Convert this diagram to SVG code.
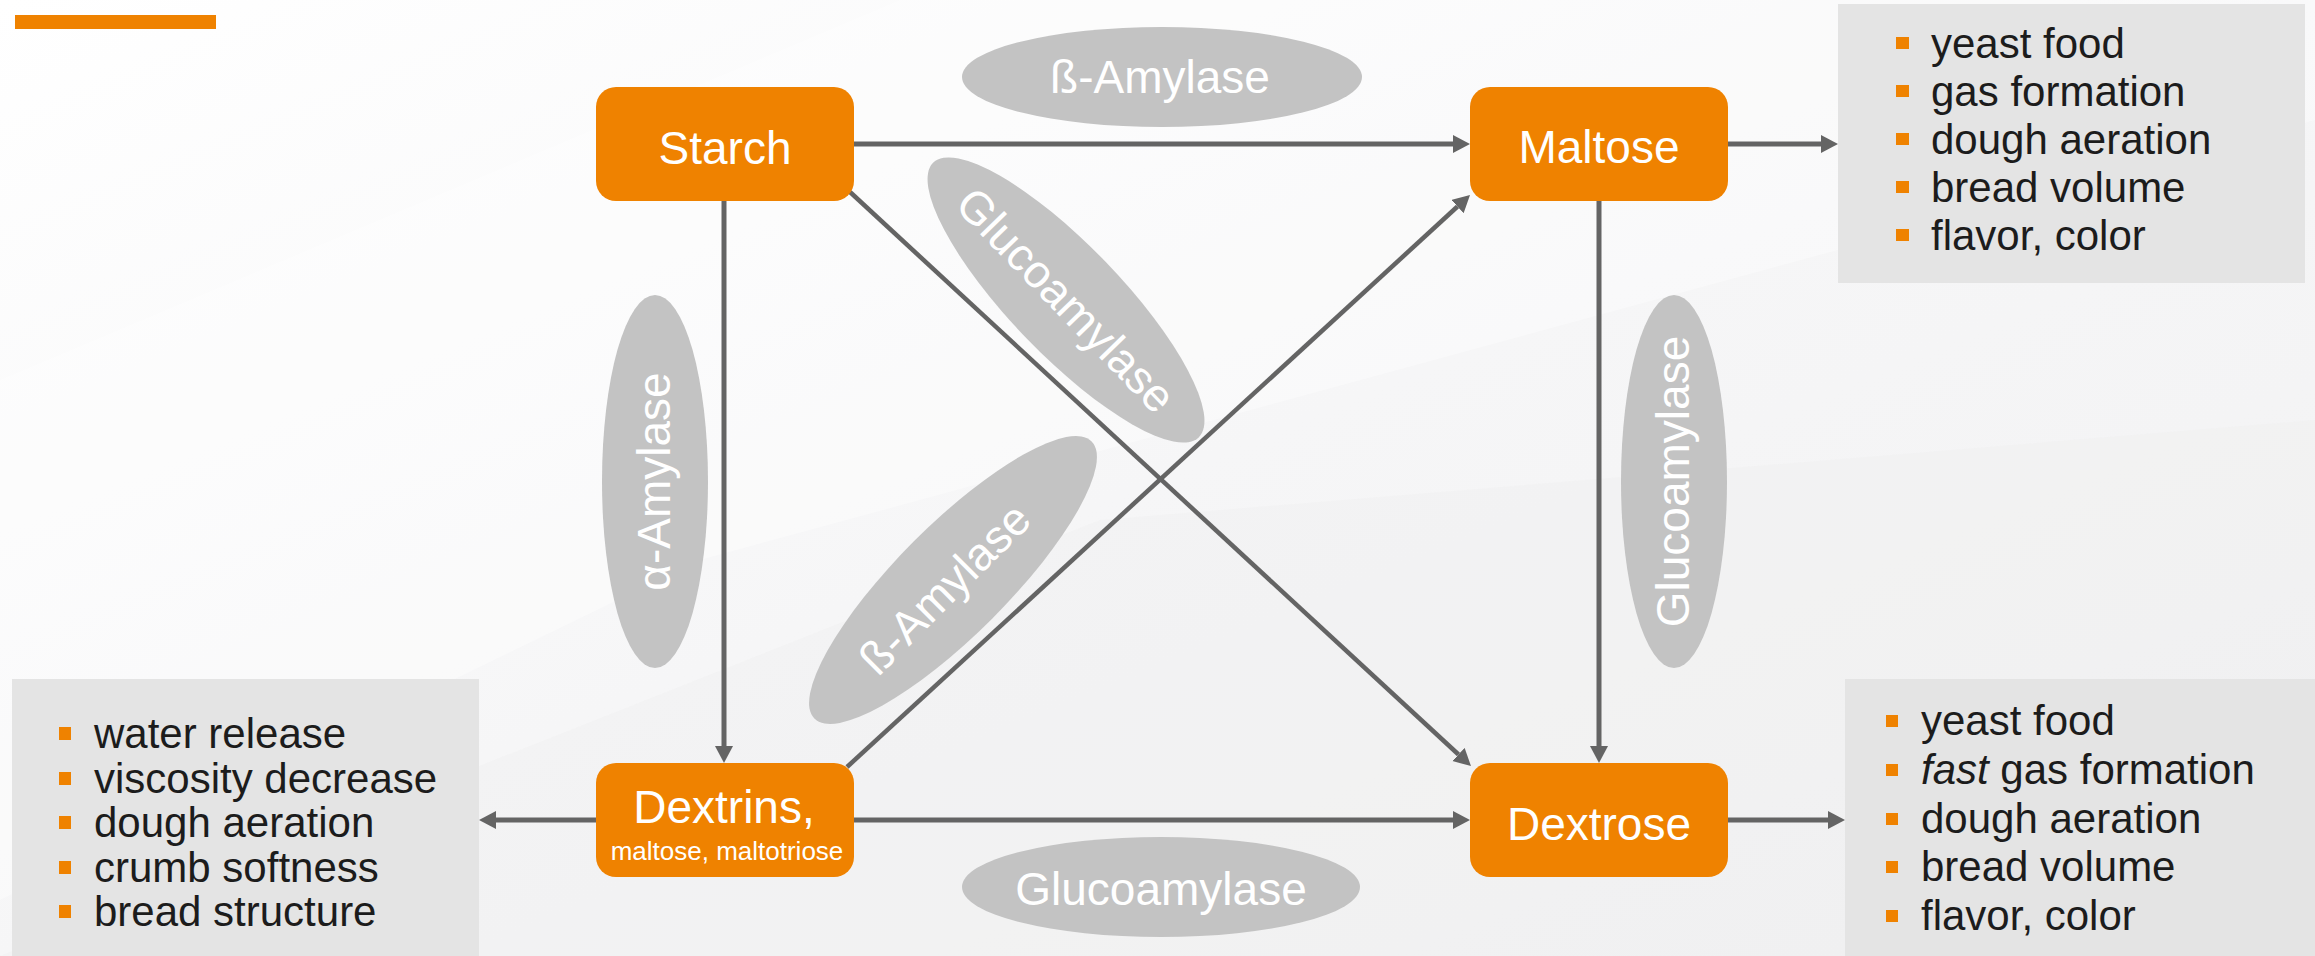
<svg xmlns="http://www.w3.org/2000/svg" width="2315" height="956" viewBox="0 0 2315 956">
<defs>
<linearGradient id="bg" x1="0" y1="0" x2="1" y2="1">
<stop offset="0" stop-color="#ffffff"/>
<stop offset="0.5" stop-color="#f6f6f7"/>
<stop offset="1" stop-color="#f1f1f2"/>
</linearGradient>
<marker id="ah" markerUnits="userSpaceOnUse" markerWidth="18" markerHeight="20" refX="0" refY="9" orient="auto">
<path d="M0,0 L17,9 L0,18 z" fill="#646464"/>
</marker>
<style>
.node{fill:#ef8200}
.nt{font-family:"Liberation Sans",Arial,sans-serif;font-size:46px;fill:#ffffff;text-anchor:middle}
.small{font-size:26px}
.ell{fill:#c3c3c3}
.et{font-family:"Liberation Sans",Arial,sans-serif;font-size:46px;fill:#ffffff;text-anchor:middle}
.box{fill:#e4e4e4}
.lt{font-family:"Liberation Sans",Arial,sans-serif;font-size:42px;fill:#1c1c1c}
.bul{fill:#ef8200}
.con{stroke:#646464;fill:none}
.hv{stroke-width:5}
.dg{stroke-width:4.5}
</style>
</defs>
<rect x="0" y="0" width="2315" height="956" fill="url(#bg)"/>
<polygon points="0,380 900,0 2315,0 2315,120 700,560 0,900" fill="#ffffff" opacity="0.35"/>
<polygon points="0,956 1100,520 2315,420 2315,956" fill="#eeeeef" opacity="0.35"/>
<rect x="15" y="15" width="201" height="14" fill="#ef8200"/>

<g id="connectors">
<line class="con hv" x1="854" y1="144" x2="1453" y2="144" marker-end="url(#ah)"/>
<line class="con hv" x1="724" y1="201" x2="724" y2="746" marker-end="url(#ah)"/>
<line class="con hv" x1="1599" y1="201" x2="1599" y2="746" marker-end="url(#ah)"/>
<line class="con hv" x1="854" y1="820" x2="1453" y2="820" marker-end="url(#ah)"/>
<line class="con hv" x1="1728" y1="144" x2="1821" y2="144" marker-end="url(#ah)"/>
<line class="con hv" x1="1728" y1="820" x2="1828" y2="820" marker-end="url(#ah)"/>
<line class="con hv" x1="596" y1="820" x2="496" y2="820" marker-end="url(#ah)"/>
<line class="con dg" x1="850" y1="192" x2="1458.5" y2="754.5" marker-end="url(#ah)"/>
<line class="con dg" x1="847" y1="767" x2="1457.5" y2="206.5" marker-end="url(#ah)"/>
</g>

<g id="enzyme-beta-top">
<ellipse class="ell" cx="1162" cy="77" rx="200" ry="50"/>
<text class="et" x="1160" y="93">ß-Amylase</text>
</g>
<g id="enzyme-gluco-diag" transform="translate(1066,300) rotate(46)">
<ellipse class="ell" cx="0" cy="0" rx="191" ry="55"/>
<text class="et" x="0" y="16">Glucoamylase</text>
</g>
<g id="enzyme-alpha" transform="translate(655,481.5) rotate(-90)">
<ellipse class="ell" cx="0" cy="0" rx="186.5" ry="53"/>
<text class="et" x="0" y="15">α-Amylase</text>
</g>
<g id="enzyme-beta-diag" transform="translate(953,580) rotate(-45)">
<ellipse class="ell" cx="0" cy="0" rx="196" ry="55"/>
<text class="et" x="-12" y="16">ß-Amylase</text>
</g>
<g id="enzyme-gluco-right" transform="translate(1674,481.5) rotate(-90)">
<ellipse class="ell" cx="0" cy="0" rx="186.5" ry="53"/>
<text class="et" x="0" y="15">Glucoamylase</text>
</g>
<g id="enzyme-gluco-bottom">
<ellipse class="ell" cx="1161" cy="887" rx="199" ry="50"/>
<text class="et" x="1161" y="905">Glucoamylase</text>
</g>

<g id="node-starch">
<rect class="node" x="596" y="87" width="258" height="114" rx="20"/>
<text class="nt" x="725" y="164">Starch</text>
</g>
<g id="node-maltose">
<rect class="node" x="1470" y="87" width="258" height="114" rx="20"/>
<text class="nt" x="1599" y="163">Maltose</text>
</g>
<g id="node-dextrins">
<rect class="node" x="596" y="763" width="258" height="114" rx="20"/>
<text class="nt" x="724" y="823">Dextrins,</text>
<text class="nt small" x="727" y="860">maltose, maltotriose</text>
</g>
<g id="node-dextrose">
<rect class="node" x="1470" y="763" width="258" height="114" rx="20"/>
<text class="nt" x="1599" y="840">Dextrose</text>
</g>

<g id="box-maltose-effects">
<rect class="box" x="1838" y="4" width="467" height="279"/>
<rect class="bul" x="1896" y="37" width="13" height="12"/>
<rect class="bul" x="1896" y="85" width="13" height="12"/>
<rect class="bul" x="1896" y="133" width="13" height="12"/>
<rect class="bul" x="1896" y="181" width="13" height="12"/>
<rect class="bul" x="1896" y="229" width="13" height="12"/>
<text class="lt" x="1931" y="58">yeast food</text>
<text class="lt" x="1931" y="106">gas formation</text>
<text class="lt" x="1931" y="154">dough aeration</text>
<text class="lt" x="1931" y="202">bread volume</text>
<text class="lt" x="1931" y="250">flavor, color</text>
</g>

<g id="box-dextrins-effects">
<rect class="box" x="12" y="679" width="467" height="277"/>
<rect class="bul" x="59" y="727" width="12" height="13"/>
<rect class="bul" x="59" y="772" width="12" height="13"/>
<rect class="bul" x="59" y="816" width="12" height="13"/>
<rect class="bul" x="59" y="861" width="12" height="13"/>
<rect class="bul" x="59" y="905" width="12" height="13"/>
<text class="lt" x="94" y="748">water release</text>
<text class="lt" x="94" y="793">viscosity decrease</text>
<text class="lt" x="94" y="837">dough aeration</text>
<text class="lt" x="94" y="882">crumb softness</text>
<text class="lt" x="94" y="926">bread structure</text>
</g>

<g id="box-dextrose-effects">
<rect class="box" x="1845" y="679" width="470" height="277"/>
<rect class="bul" x="1886" y="715" width="12" height="12"/>
<rect class="bul" x="1886" y="764" width="12" height="12"/>
<rect class="bul" x="1886" y="813" width="12" height="12"/>
<rect class="bul" x="1886" y="861" width="12" height="12"/>
<rect class="bul" x="1886" y="910" width="12" height="12"/>
<text class="lt" x="1921" y="735">yeast food</text>
<text class="lt" x="1921" y="784"><tspan font-style="italic">fast</tspan> gas formation</text>
<text class="lt" x="1921" y="833">dough aeration</text>
<text class="lt" x="1921" y="881">bread volume</text>
<text class="lt" x="1921" y="930">flavor, color</text>
</g>
</svg>
